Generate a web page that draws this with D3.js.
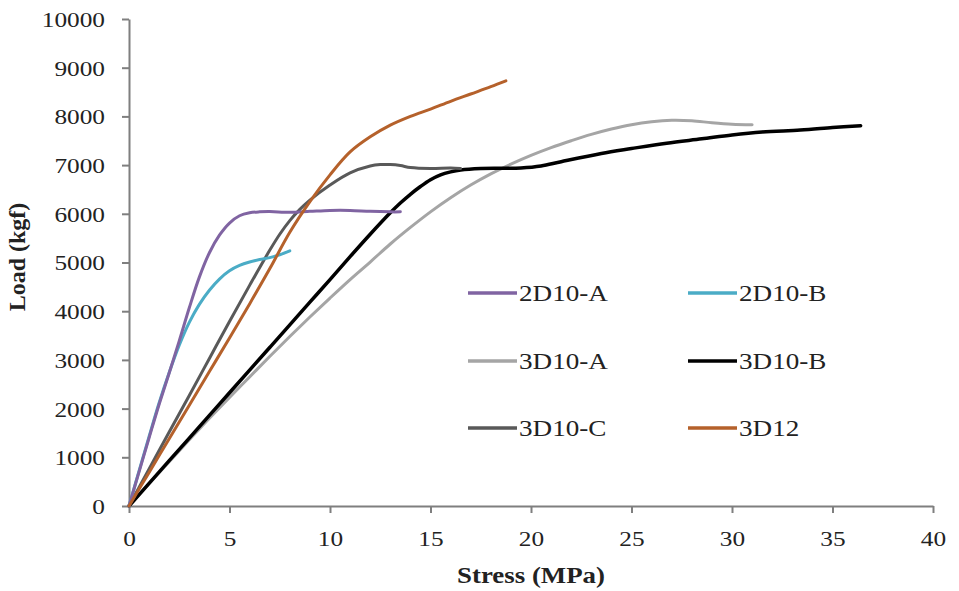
<!DOCTYPE html>
<html>
<head>
<meta charset="utf-8">
<script src="https://cdn.jsdelivr.net/npm/d3@7"></script>
<style>
  html, body { margin: 0; padding: 0; background: #fff; }
  svg { display: block; }
  text { font-family: "Liberation Serif", "Times New Roman", Times, serif; fill: #222; }
</style>
</head>
<body>
<svg id="chart" width="959" height="591"></svg>
<script>
// Load–stress curves for the tested specimens
const seriesNames = ["2D10-A", "2D10-B", "3D10-A", "3D10-B", "3D10-C", "3D12"];
const seriesColors = ["#8064a2", "#4bacc6", "#a5a5a5", "#000000", "#595959", "#b5612b"];

const stress2D10A = [0, 0.5, 1, 1.5, 2, 2.5, 3, 3.5, 4, 4.5, 5, 5.5, 6, 6.5, 7, 8, 9, 10, 11, 12, 13, 13.5];
const load2D10A   = [0, 700, 1400, 2090, 2730, 3390, 4070, 4700, 5200, 5560, 5810, 5960, 6020, 6040, 6045, 6030, 6050, 6070, 6070, 6050, 6040, 6040];

const stress2D10B = [0, 0.5, 1, 1.5, 2, 2.5, 3, 3.5, 4, 4.5, 5, 5.5, 6, 6.5, 7, 7.5, 8];
const load2D10B   = [0, 720, 1430, 2120, 2740, 3300, 3770, 4140, 4430, 4660, 4830, 4940, 5010, 5060, 5100, 5160, 5240];

const stress3D10A = [0, 1, 2, 3, 4, 5, 6, 7, 8, 9, 10, 11, 12, 13, 14, 15, 16, 17, 18, 19, 20, 21, 22, 23, 24, 25, 26, 27, 28, 29, 30, 31];
const load3D10A   = [0, 460, 910, 1360, 1800, 2230, 2650, 3070, 3480, 3880, 4270, 4650, 5010, 5380, 5720, 6040, 6330, 6590, 6820, 7020, 7200, 7360, 7500, 7630, 7740, 7830, 7890, 7920, 7910, 7870, 7840, 7830];

const stress3D10B = [0, 1, 2, 3, 4, 5, 6, 7, 8, 9, 10, 11, 12, 13, 13.5, 14, 14.5, 15, 15.5, 16, 16.5, 17.5, 18.5, 19.5, 20.5, 21.5, 23.5, 25, 26.75, 28.5, 30, 31.5, 33.4, 35, 36.4];
const load3D10B   = [0, 465, 930, 1395, 1860, 2325, 2790, 3255, 3720, 4185, 4650, 5120, 5580, 6020, 6220, 6400, 6560, 6700, 6800, 6860, 6900, 6930, 6935, 6940, 6980, 7070, 7240, 7340, 7450, 7540, 7620, 7680, 7720, 7770, 7810];

const stress3D10C = [0, 1, 2, 3, 4, 5, 6, 7, 7.5, 8, 8.5, 9, 10, 11, 12, 12.5, 13, 13.5, 14, 15, 16, 16.5];
const load3D10C   = [0, 760, 1520, 2270, 3030, 3790, 4530, 5250, 5580, 5860, 6090, 6280, 6590, 6840, 6980, 7010, 7010, 6990, 6950, 6930, 6940, 6930];

const stress3D12 = [0, 1, 2, 3, 4, 5, 6, 7, 8, 9, 10, 11, 12, 13, 14, 15, 16, 17, 18, 18.75];
const load3D12   = [0, 690, 1380, 2070, 2760, 3450, 4150, 4870, 5620, 6250, 6800, 7270, 7580, 7820, 8000, 8150, 8310, 8460, 8610, 8730];

const xTicks = [0, 5, 10, 15, 20, 25, 30, 35, 40];
const yTicks = [0, 1000, 2000, 3000, 4000, 5000, 6000, 7000, 8000, 9000, 10000];

const seriesStress = [stress2D10A, stress2D10B, stress3D10A, stress3D10B, stress3D10C, stress3D12];
const seriesLoad = [load2D10A, load2D10B, load3D10A, load3D10B, load3D10C, load3D12];

const svg = d3.select("#chart");
const plotLeft = 129, plotRight = 933, plotTop = 19, plotBottom = 506;

const x = d3.scaleLinear().domain([0, 40]).range([plotLeft, plotRight]);
const y = d3.scaleLinear().domain([0, 10000]).range([plotBottom, plotTop]);

const axisColor = "#7f7f7f";
const serif = "'Liberation Serif', 'Times New Roman', Times, serif";

// x axis
const gx = svg.append("g")
  .attr("transform", `translate(0,${plotBottom})`)
  .call(d3.axisBottom(x).tickValues(xTicks).tickSize(7).tickSizeOuter(0).tickFormat(d3.format("d")));
gx.select(".domain").attr("stroke", axisColor).attr("stroke-width", 2);
gx.selectAll(".tick line").attr("stroke", axisColor).attr("stroke-width", 2);
gx.selectAll(".tick text")
  .attr("y", 40).attr("dy", 0)
  .attr("transform", "scale(1.15,1)")
  .style("font-size", "22px")
  .style("font-family", serif)
  .attr("fill", "#222");

// y axis
const gy = svg.append("g")
  .attr("transform", `translate(${plotLeft},0)`)
  .call(d3.axisLeft(y).tickValues(yTicks).tickSize(7).tickSizeOuter(0).tickFormat(d3.format("d")));
gy.select(".domain").attr("stroke", axisColor).attr("stroke-width", 2);
gy.selectAll(".tick line").attr("stroke", axisColor).attr("stroke-width", 2);
gy.selectAll(".tick text")
  .attr("x", -24 / 1.15).attr("dy", "0.34em")
  .attr("transform", "scale(1.15,1)")
  .style("font-size", "22px")
  .style("font-family", serif)
  .attr("fill", "#222");

// axis titles
svg.append("text")
  .attr("transform", `translate(531,583) scale(1.12,1)`)
  .attr("text-anchor", "middle")
  .style("font-size", "24px")
  .style("font-weight", "bold")
  .style("font-family", serif)
  .text("Stress (MPa)");

svg.append("text")
  .attr("transform", "translate(25,257) rotate(-90)")
  .attr("text-anchor", "middle")
  .style("font-size", "24px")
  .style("font-weight", "bold")
  .style("font-family", serif)
  .text("Load (kgf)");

// curves
const line = d3.line()
  .x(d => x(d[0]))
  .y(d => y(d[1]))
  .curve(d3.curveCatmullRom.alpha(0.5));

const plot = svg.append("g");
const drawOrder = [2, 3, 4, 1, 0, 5];
drawOrder.forEach(i => {
  const pts = seriesStress[i].map((s, k) => [s, seriesLoad[i][k]]);
  plot.append("path")
    .datum(pts)
    .attr("fill", "none")
    .attr("stroke", seriesColors[i])
    .attr("stroke-width", i === 3 ? 3.5 : 3)
    .attr("stroke-linejoin", "round")
    .attr("stroke-linecap", "round")
    .attr("d", line);
});

// legend: two columns, three rows
const legendCols = [468, 688];
const legendRows = [293, 361, 428];
const legend = svg.append("g");
seriesNames.forEach((name, i) => {
  const cx = legendCols[i % 2];
  const cy = legendRows[Math.floor(i / 2)];
  legend.append("line")
    .attr("x1", cx).attr("x2", cx + 49)
    .attr("y1", cy).attr("y2", cy)
    .attr("stroke", seriesColors[i])
    .attr("stroke-width", 3.5);
  legend.append("text")
    .attr("transform", `translate(${cx + 51},${cy + 8}) scale(1.18,1)`)
    .style("font-size", "23px")
    .style("font-family", serif)
    .text(name);
});
</script>
</body>
</html>
